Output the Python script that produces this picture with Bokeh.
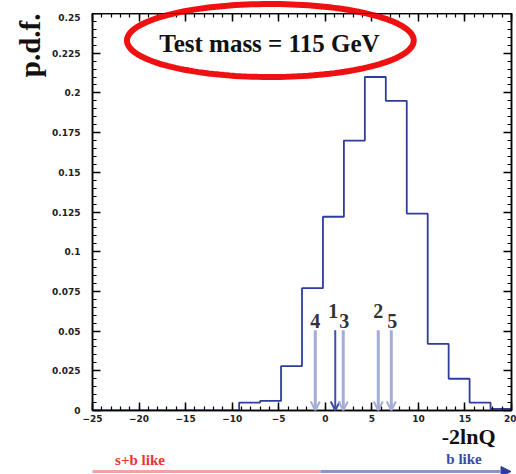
import numpy as np
from bokeh.plotting import figure
from bokeh.layouts import column
from bokeh.models import (Range1d, LinearAxis, FixedTicker, Label, Arrow, OpenHead,
                          NormalHead, PolyAnnotation, Title)
from bokeh.embed import file_html
from bokeh.resources import INLINE

# ---- data ----
bin_edges = [-25, -22.75, -20.5, -18.25, -16, -13.75, -11.5, -9.25, -7, -4.75, -2.5,
             -0.25, 2, 4.25, 6.5, 8.75, 11, 13.25, 15.5, 17.75, 20]
pdf_values = [0, 0, 0, 0, 0, 0, 0, 0.005, 0.006, 0.028, 0.077, 0.122, 0.170, 0.210,
              0.195, 0.124, 0.042, 0.020, 0.005, 0.001]
channel_labels = ["1", "2", "3", "4", "5"]
channel_values = [1.07, 5.69, 1.93, -1.07, 7.09]
x_ticks = [-25, -20, -15, -10, -5, 0, 5, 10, 15, 20]
y_ticks = [0, 0.025, 0.05, 0.075, 0.1, 0.125, 0.15, 0.175, 0.2, 0.225, 0.25]
y_tick_labels = ["0", "0.025", "0.05", "0.075", "0.1", "0.125", "0.15", "0.175", "0.2", "0.225", "0.25"]
title_text = "Test mass = 115 GeV"
y_title = "p.d.f."
x_title = "-2lnQ"
left_tag = "s+b like"
right_tag = "b like"

# ---- layout / styles ----
W = 516
TOP_H, MAIN_H, BOT_H = 13, 412, 49
LEFT_B, RIGHT_B, MAIN_BOTTOM_B = 92, 5, 15
X0, X1 = -25, 20
Y0, Y1 = 0, 0.25
frame_h = MAIN_H - MAIN_BOTTOM_B
ky = (Y1 - Y0) / frame_h           # data per pixel (y)

channel_colors = {"1": "#4050ac"}
light_arrow = "#a4acd8"
label_offsets = {"1": (-2, 10), "2": (0, 10), "3": (1, 0), "4": (0, 0), "5": (1, 0)}
serif = "Liberation Serif"
ell_cx, ell_cy, ell_a, ell_b = -5.9, Y1 - 27 * ky, 15.4, 36.5 * ky
theta = np.linspace(0, 2 * np.pi, 160)
ell_xs = list(ell_cx + ell_a * np.cos(theta))
ell_ys = list(ell_cy + ell_b * np.sin(theta))


def add_ellipse(fig):
    fig.add_layout(PolyAnnotation(xs=ell_xs, ys=ell_ys, fill_alpha=0, line_alpha=1,
                                  line_color="#ee1111", line_width=6))


def strip(h, y_range):
    f = figure(width=W, height=h, output_backend="svg", toolbar_location=None,
               x_axis_type=None, y_axis_type=None,
               x_range=Range1d(X0, X1), y_range=y_range,
               min_border_left=LEFT_B, min_border_right=RIGHT_B,
               min_border_top=0, min_border_bottom=0)
    f.grid.visible = False
    f.outline_line_color = None
    f.background_fill_color = "white"
    f.border_fill_color = "white"
    return f


# ---- top strip (for the part of the ellipse above the frame) ----
top = strip(TOP_H, Range1d(Y1, Y1 + TOP_H * ky))
add_ellipse(top)

# ---- main figure ----
p = figure(width=W, height=MAIN_H, output_backend="svg", toolbar_location=None,
           x_axis_type=None, y_axis_type=None,
           x_range=Range1d(X0, X1), y_range=Range1d(Y0, Y1),
           min_border_left=LEFT_B, min_border_right=RIGHT_B, min_border_top=0,
           min_border_bottom=MAIN_BOTTOM_B)
p.grid.visible = False
p.outline_line_color = "black"
p.outline_line_width = 1.5
p.background_fill_color = "white"
p.border_fill_color = "white"


def style_axis(ax, ticks, minor, labels=True):
    ax.ticker = FixedTicker(ticks=ticks, minor_ticks=minor)
    ax.axis_line_color = "black"
    ax.axis_line_width = 1.5
    ax.major_tick_in = 8
    ax.major_tick_out = 0
    ax.minor_tick_in = 4
    ax.minor_tick_out = 0
    ax.major_tick_line_width = 1.5
    ax.minor_tick_line_width = 1.2
    ax.major_tick_line_color = "black"
    ax.minor_tick_line_color = "black"
    ax.major_label_text_font = "DejaVu Sans"
    ax.major_label_text_font_style = "bold"
    ax.major_label_text_font_size = "9px" if labels else "0px"
    ax.major_label_text_color = "#222222"
    if not labels:
        ax.major_label_standoff = 0


x_minor = list(np.arange(X0, X1 + 0.5, 1.0))
y_minor = [round(v, 4) for v in np.arange(Y0, Y1 + 0.0001, 0.005)]

xb = LinearAxis()
style_axis(xb, x_ticks, x_minor)
xb.major_label_standoff = 4
p.add_layout(xb, "below")

xt = LinearAxis()
style_axis(xt, x_ticks, x_minor, labels=False)
p.add_layout(xt, "above")

yl = LinearAxis()
style_axis(yl, y_ticks, y_minor)
yl.major_label_overrides = {t: s for t, s in zip(y_ticks, y_tick_labels)}
yl.major_label_standoff = 12
p.add_layout(yl, "left")

yr = LinearAxis()
style_axis(yr, y_ticks, y_minor, labels=False)
p.add_layout(yr, "right")

p.add_layout(Title(text=y_title, align="right", text_font=serif, text_font_style="bold",
                   text_font_size="29px", text_color="#111111", standoff=8), "left")

# histogram
p.step(x=bin_edges, y=pdf_values + [pdf_values[-1]], mode="after",
       line_color="#2e3c9c", line_width=1.8)

# channel arrows
for lab, val in zip(channel_labels, channel_values):
    col = channel_colors.get(lab, light_arrow)
    lw = 2 if lab in channel_colors else 3
    p.add_layout(Arrow(x_start=val, y_start=0.0505, x_end=val, y_end=0.0,
                       line_color=col, line_width=lw,
                       end=OpenHead(size=9, line_color=col, line_width=2)))
    dx, dy = label_offsets[lab]
    p.add_layout(Label(x=val, y=0.0505, text=lab, x_offset=dx, y_offset=dy + 2,
                       text_align="center", text_baseline="bottom",
                       text_font=serif, text_font_style="bold", text_font_size="20px",
                       text_color="#333333"))

# title and ellipse
p.add_layout(Label(x=-6.0, y=Y1 - 30 * ky, text=title_text, text_align="center",
                   text_baseline="middle", text_font=serif, text_font_style="bold",
                   text_font_size="25px", text_color="#111111"))
add_ellipse(p)

# ---- bottom strip: x title and s+b / b arrow ----
bot = strip(BOT_H, Range1d(0, BOT_H))
bot.add_layout(Label(x=15.4, y=38, text=x_title, text_align="center",
                     text_baseline="middle", text_font=serif, text_font_style="bold",
                     text_font_size="22px", text_color="#111111"))
bot.add_layout(Label(x=-19.9, y=15, text=left_tag, text_align="center",
                     text_baseline="middle", text_font=serif, text_font_style="bold",
                     text_font_size="15px", text_color="#ee3333"))
bot.add_layout(Label(x=14.9, y=16, text=right_tag, text_align="center",
                     text_baseline="middle", text_font=serif, text_font_style="bold",
                     text_font_size="15px", text_color="#3a4aa8"))
bot.add_layout(Arrow(x_start=-25.4, y_start=3, x_end=-0.5, y_end=3,
                     line_color="#f2a4a4", line_width=3, end=None))
bot.add_layout(Arrow(x_start=-0.5, y_start=3, x_end=19.95, y_end=3,
                     line_color="#8c94c8", line_width=3,
                     end=NormalHead(size=10, fill_color="#2e3c9c", line_color="#2e3c9c")))

layout = column(top, p, bot, spacing=0)
open("out.html", "w").write(file_html(layout, INLINE))
